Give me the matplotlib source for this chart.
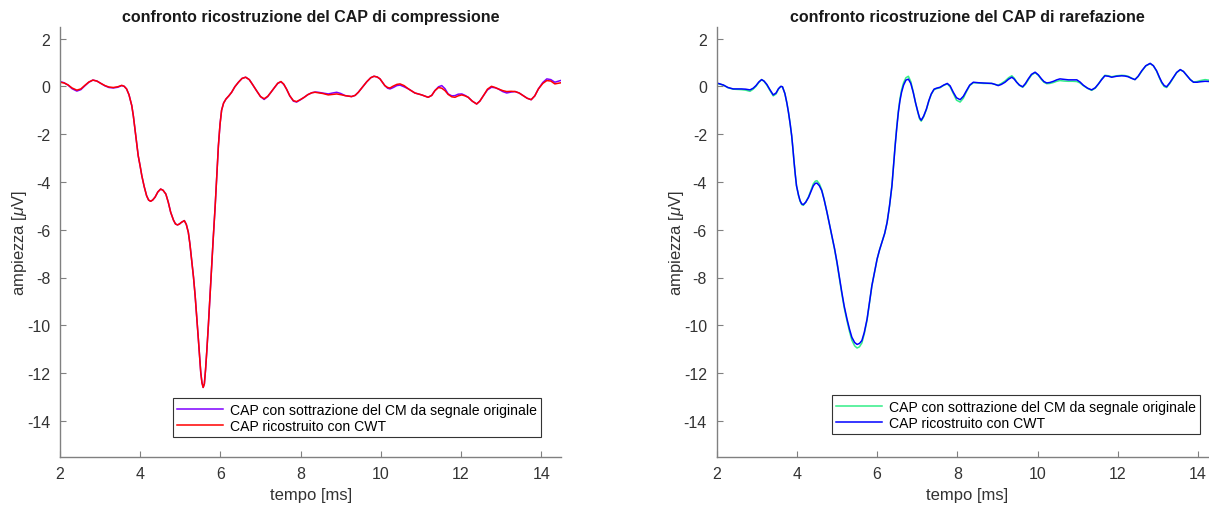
import matplotlib
matplotlib.use('Agg')
import matplotlib.pyplot as plt

plt.rcParams['font.family'] = ['Liberation Sans', 'DejaVu Sans']
plt.rcParams['mathtext.fontset'] = 'custom'
plt.rcParams['mathtext.it'] = 'Liberation Sans:italic'
plt.rcParams['mathtext.rm'] = 'Liberation Sans'
plt.rcParams['axes.unicode_minus'] = False

# --- CAP di compressione ---
t_comp = [2.00, 2.10, 2.20, 2.30, 2.42, 2.52, 2.62, 2.72, 2.82, 2.92,
          3.02, 3.12, 3.22, 3.33, 3.44, 3.54, 3.60, 3.66, 3.72, 3.79,
          3.83, 3.87, 3.91, 3.95, 4.00, 4.04, 4.10, 4.16, 4.21, 4.26,
          4.31, 4.37, 4.44, 4.51, 4.57, 4.64, 4.70, 4.76, 4.83, 4.88,
          4.93, 4.98, 5.03, 5.10, 5.15, 5.20, 5.24, 5.28, 5.33, 5.37,
          5.41, 5.45, 5.48, 5.51, 5.54, 5.57, 5.60, 5.63, 5.66, 5.70,
          5.74, 5.78, 5.82, 5.87, 5.91, 5.95, 5.99, 6.03, 6.08, 6.14,
          6.21, 6.28, 6.36, 6.45, 6.54, 6.63, 6.72, 6.80, 6.90, 7.00,
          7.09, 7.18, 7.26, 7.35, 7.43, 7.51, 7.58, 7.65, 7.73, 7.82,
          7.90, 8.00, 8.09, 8.18, 8.28, 8.36, 8.44, 8.55, 8.69, 8.80,
          8.90, 9.00, 9.11, 9.27, 9.36, 9.44, 9.55, 9.65, 9.75, 9.83,
          9.91, 9.98, 10.04, 10.10, 10.17, 10.23, 10.30, 10.40, 10.48, 10.58,
          10.69, 10.85, 11.02, 11.18, 11.27, 11.35, 11.44, 11.52, 11.60, 11.68,
          11.77, 11.85, 11.93, 12.02, 12.10, 12.18, 12.28, 12.39, 12.47, 12.56,
          12.66, 12.76, 12.85, 12.93, 13.04, 13.14, 13.25, 13.35, 13.45, 13.55,
          13.65, 13.75, 13.84, 13.93, 14.04, 14.14, 14.24, 14.34, 14.50]
cap_sottr_comp = [0.20, 0.15, 0.05, -0.10, -0.20, -0.14, 0.02, 0.17, 0.26, 0.22,
                  0.12, 0.02, -0.05, -0.07, -0.04, 0.03, 0.00, -0.11, -0.35, -0.81,
                  -1.25, -1.79, -2.35, -2.90, -3.35, -3.74, -4.20, -4.58, -4.76, -4.81,
                  -4.76, -4.64, -4.42, -4.30, -4.35, -4.51, -4.85, -5.27, -5.60, -5.76,
                  -5.80, -5.76, -5.69, -5.62, -5.78, -6.11, -6.60, -7.23, -8.00, -8.76,
                  -9.65, -10.57, -11.30, -11.97, -12.40, -12.60, -12.45, -11.85, -11.10, -10.00,
                  -8.80, -7.60, -6.40, -5.00, -3.70, -2.49, -1.60, -1.00, -0.70, -0.53,
                  -0.40, -0.25, -0.02, 0.17, 0.33, 0.38, 0.28, 0.08, -0.18, -0.43,
                  -0.55, -0.43, -0.25, -0.05, 0.12, 0.19, 0.08, -0.12, -0.40, -0.62,
                  -0.66, -0.56, -0.46, -0.35, -0.27, -0.24, -0.25, -0.28, -0.32, -0.28,
                  -0.25, -0.30, -0.39, -0.43, -0.38, -0.25, -0.02, 0.19, 0.36, 0.42,
                  0.39, 0.31, 0.17, 0.03, -0.08, -0.11, -0.06, 0.03, 0.05, -0.02,
                  -0.11, -0.28, -0.36, -0.46, -0.38, -0.18, -0.02, 0.03, -0.10, -0.32,
                  -0.40, -0.39, -0.33, -0.32, -0.38, -0.46, -0.62, -0.74, -0.62, -0.39,
                  -0.15, -0.04, -0.06, -0.11, -0.22, -0.28, -0.24, -0.22, -0.28, -0.39,
                  -0.50, -0.56, -0.40, -0.11, 0.16, 0.31, 0.28, 0.17, 0.25]
cap_cwt_comp = [0.17, 0.14, 0.06, -0.07, -0.16, -0.11, 0.04, 0.18, 0.26, 0.22,
                0.12, 0.03, -0.03, -0.05, -0.02, 0.04, 0.00, -0.11, -0.35, -0.81,
                -1.25, -1.79, -2.35, -2.90, -3.35, -3.74, -4.20, -4.58, -4.76, -4.81,
                -4.76, -4.64, -4.42, -4.30, -4.35, -4.51, -4.85, -5.27, -5.60, -5.76,
                -5.80, -5.76, -5.69, -5.62, -5.78, -6.11, -6.60, -7.23, -8.00, -8.76,
                -9.65, -10.57, -11.30, -11.97, -12.40, -12.60, -12.45, -11.85, -11.10, -10.00,
                -8.80, -7.60, -6.40, -5.00, -3.70, -2.49, -1.60, -1.00, -0.70, -0.53,
                -0.40, -0.25, -0.02, 0.17, 0.33, 0.38, 0.28, 0.08, -0.18, -0.43,
                -0.52, -0.42, -0.25, -0.05, 0.13, 0.20, 0.09, -0.12, -0.40, -0.60,
                -0.64, -0.55, -0.46, -0.35, -0.27, -0.25, -0.27, -0.30, -0.36, -0.34,
                -0.32, -0.35, -0.39, -0.43, -0.38, -0.25, -0.02, 0.19, 0.36, 0.42,
                0.39, 0.31, 0.17, 0.03, -0.05, -0.07, 0.00, 0.08, 0.10, 0.03,
                -0.11, -0.28, -0.36, -0.46, -0.38, -0.18, -0.05, -0.08, -0.18, -0.34,
                -0.44, -0.46, -0.40, -0.36, -0.40, -0.46, -0.62, -0.74, -0.62, -0.39,
                -0.12, 0.00, -0.05, -0.11, -0.18, -0.22, -0.21, -0.22, -0.28, -0.39,
                -0.50, -0.56, -0.40, -0.11, 0.12, 0.24, 0.22, 0.10, 0.15]

# --- CAP di rarefazione ---
t_rar = [2.00, 2.08, 2.17, 2.28, 2.41, 2.52, 2.62, 2.72, 2.83, 2.91,
         2.98, 3.05, 3.12, 3.18, 3.25, 3.33, 3.41, 3.48, 3.54, 3.60,
         3.64, 3.70, 3.75, 3.79, 3.83, 3.87, 3.90, 3.93, 3.96, 3.99,
         4.04, 4.08, 4.12, 4.16, 4.22, 4.29, 4.35, 4.41, 4.46, 4.50,
         4.56, 4.62, 4.68, 4.75, 4.81, 4.87, 4.94, 5.00, 5.06, 5.12,
         5.18, 5.25, 5.31, 5.37, 5.44, 5.50, 5.56, 5.62, 5.68, 5.75,
         5.81, 5.87, 5.94, 6.00, 6.06, 6.12, 6.19, 6.25, 6.31, 6.37,
         6.41, 6.45, 6.49, 6.53, 6.57, 6.61, 6.66, 6.72, 6.78, 6.84,
         6.90, 6.96, 7.02, 7.06, 7.10, 7.16, 7.23, 7.29, 7.35, 7.42,
         7.48, 7.57, 7.66, 7.75, 7.82, 7.90, 7.98, 8.07, 8.15, 8.23,
         8.31, 8.40, 8.52, 8.65, 8.76, 8.86, 8.94, 9.02, 9.10, 9.19,
         9.28, 9.36, 9.42, 9.48, 9.55, 9.63, 9.70, 9.77, 9.85, 9.94,
         10.02, 10.10, 10.16, 10.23, 10.31, 10.40, 10.48, 10.56, 10.66, 10.77,
         10.88, 10.98, 11.06, 11.14, 11.25, 11.35, 11.44, 11.52, 11.60, 11.68,
         11.77, 11.85, 11.97, 12.10, 12.18, 12.26, 12.35, 12.43, 12.51, 12.60,
         12.70, 12.81, 12.89, 12.97, 13.04, 13.10, 13.16, 13.22, 13.30, 13.39,
         13.47, 13.56, 13.64, 13.73, 13.81, 13.89, 13.98, 14.06, 14.18, 14.30,
         14.50]
cap_sottr_rar = [0.12, 0.09, 0.05, -0.06, -0.12, -0.13, -0.14, -0.16, -0.21, -0.12,
                 0.00, 0.16, 0.28, 0.21, 0.05, -0.18, -0.40, -0.32, -0.12, -0.01,
                 -0.02, -0.30, -0.70, -1.09, -1.55, -2.07, -2.60, -3.18, -3.70, -4.16,
                 -4.57, -4.81, -4.95, -4.98, -4.85, -4.62, -4.35, -4.08, -3.97, -3.95,
                 -4.08, -4.33, -4.73, -5.27, -5.76, -6.27, -6.83, -7.40, -8.05, -8.68,
                 -9.27, -9.82, -10.25, -10.62, -10.86, -10.95, -10.90, -10.74, -10.36, -9.78,
                 -9.07, -8.35, -7.75, -7.23, -6.85, -6.53, -6.15, -5.69, -5.00, -4.16,
                 -3.28, -2.46, -1.70, -1.03, -0.52, -0.15, 0.15, 0.36, 0.42, 0.20,
                 -0.22, -0.70, -1.12, -1.37, -1.46, -1.28, -0.97, -0.62, -0.34, -0.14,
                 -0.10, -0.06, 0.04, 0.10, -0.02, -0.30, -0.58, -0.66, -0.50, -0.22,
                 0.03, 0.15, 0.14, 0.12, 0.12, 0.12, 0.08, 0.05, 0.12, 0.22,
                 0.36, 0.44, 0.34, 0.18, 0.04, -0.04, 0.08, 0.27, 0.47, 0.57,
                 0.46, 0.28, 0.17, 0.11, 0.12, 0.16, 0.21, 0.24, 0.22, 0.21,
                 0.21, 0.20, 0.14, 0.03, -0.09, -0.17, -0.08, 0.10, 0.30, 0.46,
                 0.44, 0.40, 0.44, 0.46, 0.45, 0.42, 0.34, 0.28, 0.41, 0.63,
                 0.85, 0.95, 0.86, 0.63, 0.35, 0.13, -0.01, -0.05, 0.12, 0.36,
                 0.57, 0.69, 0.62, 0.44, 0.28, 0.18, 0.20, 0.24, 0.28, 0.25,
                 0.20]
cap_cwt_rar = [0.14, 0.10, 0.05, -0.05, -0.11, -0.11, -0.11, -0.12, -0.15, -0.08,
               0.03, 0.18, 0.28, 0.22, 0.08, -0.15, -0.36, -0.28, -0.10, 0.00,
               -0.02, -0.30, -0.70, -1.09, -1.55, -2.07, -2.60, -3.18, -3.70, -4.16,
               -4.55, -4.79, -4.92, -4.95, -4.85, -4.65, -4.40, -4.16, -4.06, -4.05,
               -4.16, -4.37, -4.75, -5.27, -5.75, -6.25, -6.80, -7.36, -8.00, -8.62,
               -9.20, -9.74, -10.15, -10.50, -10.72, -10.80, -10.76, -10.64, -10.30, -9.74,
               -9.05, -8.34, -7.75, -7.23, -6.85, -6.53, -6.15, -5.69, -5.00, -4.16,
               -3.30, -2.49, -1.75, -1.09, -0.60, -0.25, 0.05, 0.26, 0.30, 0.12,
               -0.25, -0.70, -1.09, -1.32, -1.42, -1.25, -0.95, -0.60, -0.32, -0.12,
               -0.08, -0.04, 0.05, 0.12, 0.02, -0.25, -0.48, -0.56, -0.42, -0.18,
               0.05, 0.17, 0.15, 0.14, 0.13, 0.12, 0.08, 0.03, 0.08, 0.17,
               0.30, 0.38, 0.30, 0.17, 0.05, -0.02, 0.12, 0.31, 0.50, 0.59,
               0.48, 0.31, 0.20, 0.14, 0.16, 0.21, 0.27, 0.31, 0.29, 0.27,
               0.27, 0.27, 0.18, 0.05, -0.08, -0.15, -0.06, 0.10, 0.28, 0.44,
               0.42, 0.38, 0.42, 0.44, 0.43, 0.40, 0.33, 0.28, 0.42, 0.65,
               0.86, 0.96, 0.86, 0.65, 0.38, 0.17, 0.03, -0.02, 0.15, 0.38,
               0.58, 0.70, 0.62, 0.44, 0.28, 0.17, 0.17, 0.19, 0.21, 0.20,
               0.15]

label_sottr = 'CAP con sottrazione del CM da segnale originale'
label_cwt = 'CAP ricostruito con CWT'

W, H = 1209, 510
fig = plt.figure(figsize=(W / 100, H / 100), dpi=100)

ax_w = 12.5 * 40.1 / W
ax_h = 18 * 23.9 / H
ax_b = (H - 457.75) / H
ax1 = fig.add_axes([60 / W, ax_b, ax_w, ax_h])
ax2 = fig.add_axes([716.7 / W, ax_b, ax_w, ax_h])

panels = [
    (ax1, t_comp, cap_sottr_comp, cap_cwt_comp, '#7f00ff', '#ff0000',
     'confronto ricostruzione del CAP di compressione', (173 / W, 1 - 438 / H)),
    (ax2, t_rar, cap_sottr_rar, cap_cwt_rar, '#33ee88', '#0000ff',
     'confronto ricostruzione del CAP di rarefazione', (832 / W, 1 - 435 / H)),
]

grey = '#808080'
for ax, t, y1, y2, c1, c2, title, leg_pos in panels:
    ax.plot(t, y1, color=c1, lw=1.1, label=label_sottr)
    ax.plot(t, y2, color=c2, lw=1.1, label=label_cwt)
    ax.set_xlim(2, 14.5)
    ax.set_ylim(-15.5, 2.5)
    ax.set_xticks([2, 4, 6, 8, 10, 12, 14])
    ax.set_yticks([2, 0, -2, -4, -6, -8, -10, -12, -14])
    ax.spines['top'].set_visible(False)
    ax.spines['right'].set_visible(False)
    for s in ('left', 'bottom'):
        ax.spines[s].set_color(grey)
        ax.spines[s].set_linewidth(1.0)
    ax.tick_params(direction='in', length=4, width=0.8, color=grey,
                   labelsize=11.5, labelcolor='#333333', pad=7)
    ax.set_title(title, fontsize=11.5, fontweight='bold', color='#1a1a1a', pad=4)
    ax.set_xlabel('tempo [ms]', fontsize=12, color='#333333', labelpad=4)
    ax.set_ylabel(r'ampiezza [$\mu$V]', fontsize=12, color='#333333')
    ax.yaxis.set_label_coords(-0.062, 0.5)
    leg = ax.legend(loc='lower left', bbox_to_anchor=leg_pos,
                    bbox_transform=fig.transFigure, borderaxespad=0,
                    fontsize=10.1, handlelength=3.25, handletextpad=0.5,
                    borderpad=0.3, labelspacing=0.15, fancybox=False,
                    framealpha=1, edgecolor='#333333')
    leg.get_frame().set_linewidth(0.8)

fig.savefig('out.png', dpi=100)
